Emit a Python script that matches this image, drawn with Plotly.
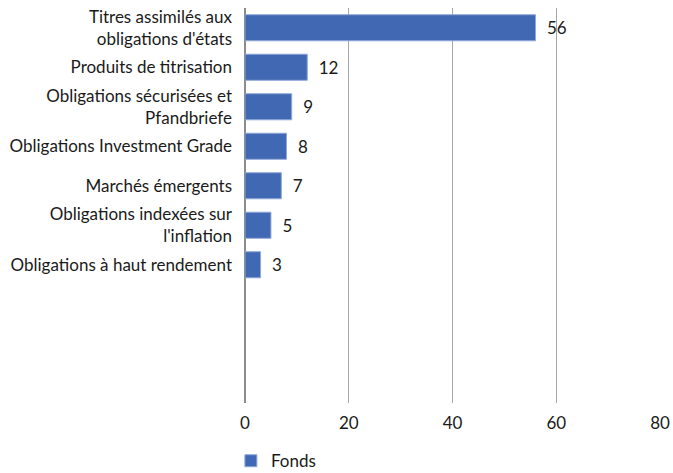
import plotly.graph_objects as go

categories = [
    "Titres assimilés aux<br>obligations d'états",
    "Produits de titrisation",
    "Obligations sécurisées et<br>Pfandbriefe",
    "Obligations Investment Grade",
    "Marchés émergents",
    "Obligations indexées sur<br>l'inflation",
    "Obligations à haut rendement",
]
values = [56, 12, 9, 8, 7, 5, 3]
series_name = "Fonds"
x_ticks = [0, 20, 40, 60, 80]

FONT = "Lato"
BAR = "#4168B2"
TXT = "#1a1a1a"

fig = go.Figure()
fig.add_trace(go.Bar(
    y=categories, x=values, orientation="h", name=series_name,
    marker=dict(color=BAR, line=dict(color="#8FA8D8", width=1)),
    width=0.66,
    text=values, texttemplate="\u2002%{x}", textposition="outside",
    textfont=dict(family=FONT, size=17, color=TXT),
    cliponaxis=False,
))

fig.update_layout(
    width=673, height=473,
    margin=dict(l=245, r=13, t=8, b=70),
    paper_bgcolor="white", plot_bgcolor="white",
    font=dict(family=FONT, size=17, color=TXT),
    showlegend=True,
    legend=dict(orientation="h", x=-0.034, xanchor="left", xref="paper",
                y=0.025, yanchor="middle", yref="container",
                font=dict(family=FONT, size=17, color=TXT)),
)
fig.update_xaxes(range=[0, 80], tickvals=x_ticks, showgrid=True, gridcolor="#A6A6A6",
                 gridwidth=1, zeroline=True, zerolinecolor="#8C8C8C", zerolinewidth=2,
                 showline=False, ticks="", tickfont=dict(size=17), automargin=False,
                 ticklabelstandoff=8)
fig.update_yaxes(type="category", categoryorder="array", categoryarray=categories,
                 range=[9.5, -0.5], showgrid=False, showline=False, ticks="",
                 ticklabelstandoff=12, tickfont=dict(size=17), automargin=False)

fig.write_html(
    "out.html",
    config={"displayModeBar": False},
    post_script="document.body.style.margin='0';document.body.style.overflow='hidden';",
)
